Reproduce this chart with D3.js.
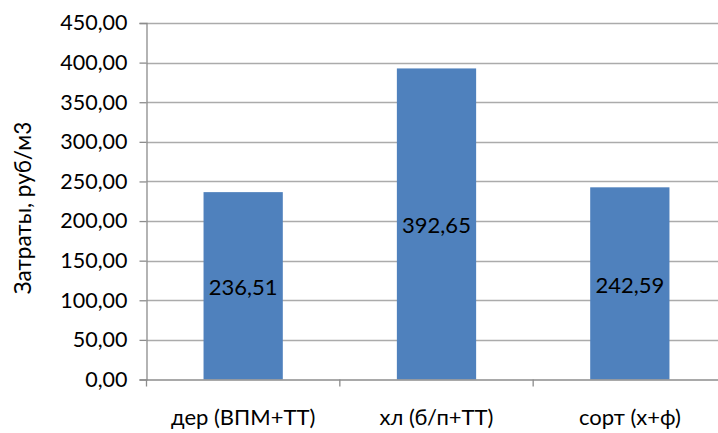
<!DOCTYPE html>
<html><head><meta charset="utf-8">
<script src="https://cdn.jsdelivr.net/npm/d3@7"></script>
<style>body{margin:0;background:#fff}svg{display:block}text{font-family:Lato,"Open Sans",sans-serif;fill:#000}</style>
</head><body><svg id="c" width="718" height="433"></svg>
<script>
const categories = ["дер (ВПМ+ТТ)", "хл (б/п+ТТ)", "сорт (х+ф)"];
const values = [236.51, 392.65, 242.59];
const yTicks = [0, 50, 100, 150, 200, 250, 300, 350, 400, 450];
const yTitle = "Затраты, руб/м3";

(function () {
const svg = d3.select("#c");
const pLeft = 146.5, pRight = 726.5, pTop = 23, pBottom = 379.5;
const x = d3.scaleBand().domain(categories).range([pLeft, pRight]).padding(0);
const y = d3.scaleLinear().domain([0, 450]).range([pBottom, pTop]);
const fmt = v => d3.format(".2f")(v).replace(".", ",");

svg.append("g").selectAll("line").data(yTicks.filter(t => t > 0)).join("line")
  .attr("x1", pLeft).attr("x2", pRight)
  .attr("y1", d => Math.round(y(d)) + 0.5).attr("y2", d => Math.round(y(d)) + 0.5)
  .attr("stroke", "#ababab").attr("stroke-width", 1.3);

const bw = x.bandwidth() * 0.41;
svg.append("g").selectAll("rect").data(values).join("rect")
  .attr("x", (d, i) => x(categories[i]) + x.bandwidth() / 2 - bw / 2)
  .attr("width", bw)
  .attr("y", d => y(d)).attr("height", d => y(0) - y(d))
  .attr("fill", "#4f81bd");

const ya = d3.axisLeft(y).tickValues(yTicks).tickSize(7).tickPadding(12).tickFormat(fmt);
const gy = svg.append("g").attr("transform", `translate(${pLeft},0)`).call(ya);
gy.select(".domain").attr("stroke", "#8c8c8c").attr("stroke-width", 1.3);
gy.selectAll(".tick line").attr("stroke", "#8c8c8c").attr("stroke-width", 1.3);
gy.selectAll(".tick text").style("font-size", "21.5px").attr("fill", "#000");

const xa = d3.axisBottom(x).tickSize(0).tickPadding(30);
const gx = svg.append("g").attr("transform", `translate(0,${pBottom})`).call(xa);
gx.select(".domain").attr("stroke", "#8c8c8c").attr("stroke-width", 1.3);
gx.selectAll(".tick text").style("font-size", "22px").attr("fill", "#000");
const bounds = categories.map(c => x(c)).concat([pRight]);
svg.append("g").selectAll("line").data(bounds).join("line")
  .attr("x1", d => d).attr("x2", d => d).attr("y1", pBottom).attr("y2", pBottom + 7)
  .attr("stroke", "#8c8c8c").attr("stroke-width", 1.3);

svg.append("g").selectAll("text").data(values).join("text")
  .attr("x", (d, i) => x(categories[i]) + x.bandwidth() / 2)
  .attr("y", d => (y(d) + y(0)) / 2 + 1)
  .attr("text-anchor", "middle").attr("dominant-baseline", "central")
  .style("font-size", "22px").text(fmt);

svg.append("text").attr("transform", "translate(22,208) rotate(-90)")
  .attr("text-anchor", "middle").attr("dominant-baseline", "central")
  .style("font-size", "22.5px").text(yTitle);
})();
</script></body></html>
